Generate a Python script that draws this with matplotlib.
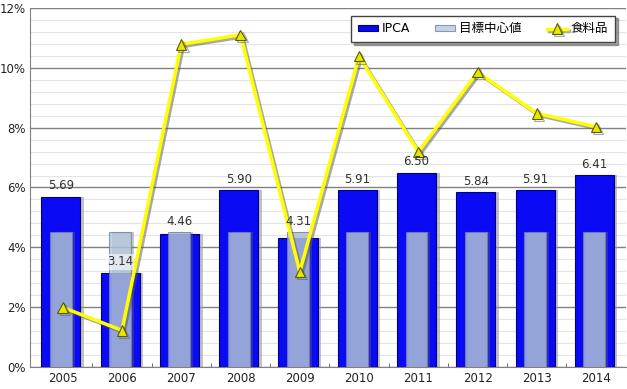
import matplotlib
matplotlib.use("Agg")
import matplotlib.pyplot as plt
import matplotlib.patheffects as pe
from matplotlib.ticker import MultipleLocator, FuncFormatter
import numpy as np

plt.rcParams['font.family'] = ['DejaVu Sans', 'Noto Sans CJK JP']

years = ['2005', '2006', '2007', '2008', '2009', '2010', '2011', '2012', '2013', '2014']
ipca = [5.69, 3.14, 4.46, 5.90, 4.31, 5.91, 6.50, 5.84, 5.91, 6.41]
target = [4.5, 4.5, 4.5, 4.5, 4.5, 4.5, 4.5, 4.5, 4.5, 4.5]
food = [1.99, 1.22, 10.79, 11.11, 3.18, 10.39, 7.19, 9.86, 8.48, 8.03]
series_names = ['IPCA', '目標中心値', '食料品']

fig = plt.figure(figsize=(6.27, 3.89), dpi=100)
ax = fig.add_axes([0.048, 0.057, 0.95, 0.922])

x = np.arange(len(years))
xb = x - 0.03

# shadows
ax.bar(xb + 0.06, ipca, width=0.66, color='#9a9a9a', alpha=0.6, zorder=2, linewidth=0)
bars = ax.bar(xb, ipca, width=0.66, color='#0A0AF5', edgecolor='#00007A', linewidth=0.8,
              zorder=3, label=series_names[0])
ax.bar(xb + 0.05, target, width=0.37, color='#666666', alpha=0.35, zorder=3.5, linewidth=0)
tb = ax.bar(xb, target, width=0.37, color=(180/255, 200/255, 222/255), alpha=0.78,
            edgecolor='#7080A0', linewidth=0.8, zorder=4, label=series_names[1])

# value labels
for xi, v, t in zip(xb, ipca, target):
    base = t if 0 < t - v < 0.3 else v
    ax.text(xi, base + 0.15, f'{v:.2f}', ha='center', va='bottom', fontsize=8.5,
            color='#333333', zorder=6,
            bbox=dict(boxstyle='square,pad=0.1', fc='white', ec='none', alpha=0.6) if v < t - 0.3 else None)

ln, = ax.plot(x, food, color='#FFFF00', linewidth=2.5, marker='^', markersize=7.5,
              markerfacecolor='#E6E600', markeredgecolor='#5A5A00', markeredgewidth=0.8,
              zorder=5, label=series_names[2],
              path_effects=[pe.SimpleLineShadow(offset=(1.5, -1.5), shadow_color='#555555', alpha=0.5),
                            pe.Normal()])

ax.set_ylim(0, 12)
ax.set_xlim(-0.55, 9.5)
ax.yaxis.set_major_locator(MultipleLocator(2))
ax.yaxis.set_minor_locator(MultipleLocator(0.4))
ax.yaxis.set_major_formatter(FuncFormatter(lambda v, p: f'{v:.0f}%'))
ax.grid(axis='y', which='major', color='#808080', linewidth=1.0, zorder=0)
ax.grid(axis='y', which='minor', color='#E4E4E4', linewidth=0.8, zorder=0)
ax.set_axisbelow(True)

ax.set_xticks(x)
ax.set_xticklabels(years)
ax.set_xticks(np.arange(len(years) - 1) + 0.5, minor=True)
ax.tick_params(axis='x', which='major', length=0, labelsize=8.5, colors='#222222', pad=4)
ax.tick_params(axis='x', which='minor', length=3, direction='in', color='#555555')
ax.tick_params(axis='y', which='both', length=0, labelsize=8.5, colors='#222222', pad=3)
for s in ['top', 'right']:
    ax.spines[s].set_visible(False)
ax.spines['left'].set_color('#808080')
ax.spines['bottom'].set_color('#808080')

leg = ax.legend(handles=[bars, tb, ln], labels=series_names, ncol=3, loc='upper right',
                bbox_to_anchor=(0.988, 0.99), fontsize=9, frameon=True, fancybox=False,
                shadow=True, edgecolor='#444444', handlelength=1.6, columnspacing=2.0,
                handletextpad=0.3, borderpad=0.55, handleheight=0.4, borderaxespad=0.3)
leg.get_frame().set_linewidth(1.0)
leg.set_zorder(10)

fig.savefig('out.png', dpi=100)
